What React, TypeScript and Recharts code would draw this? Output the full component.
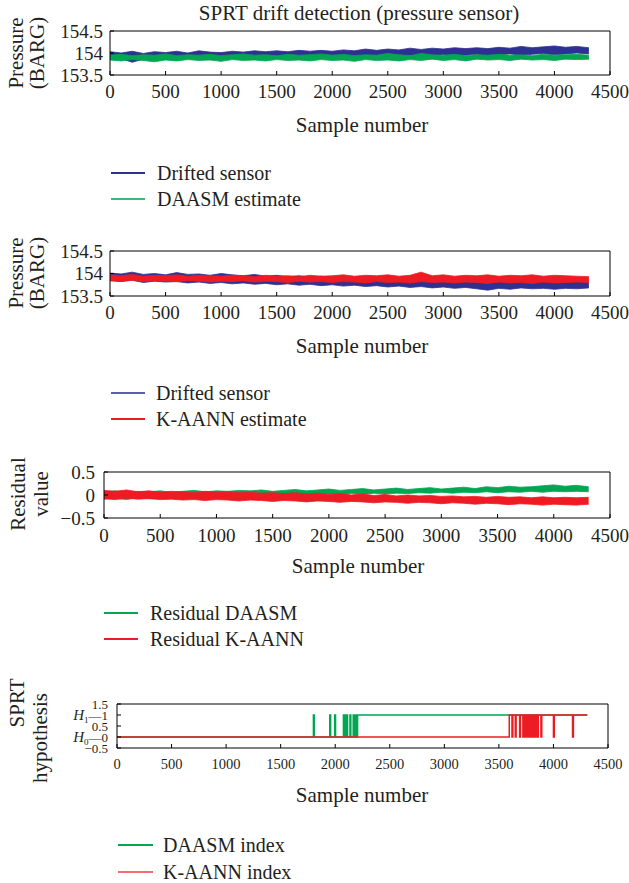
import React from 'react';
import { ComposedChart, Area, Line, XAxis, YAxis } from 'recharts';

const FONT = '"Liberation Serif", "DejaVu Serif", serif';
const BLUE = '#2e3192';
const GREEN = '#00a651';
const RED = '#ed1c24';
const INK = '#231f20';

const sampleNumbers = [
  0, 100, 200, 300, 400, 500, 600, 700, 800, 900,
  1000, 1100, 1200, 1300, 1400, 1500, 1600, 1700, 1800, 1900,
  2000, 2100, 2200, 2300, 2400, 2500, 2600, 2700, 2800, 2900,
  3000, 3100, 3200, 3300, 3400, 3500, 3600, 3700, 3800, 3900,
  4000, 4100, 4200, 4310,
];
const xTicks = [0, 500, 1000, 1500, 2000, 2500, 3000, 3500, 4000, 4500];

// panel 1: drifted sensor vs DAASM estimate (BARG), upper / lower edge of the noise band
const drifted1Hi = [
  154.03, 154.0, 154.04, 153.99, 154.03, 154.01, 154.04, 154.0, 154.05, 154.02,
  154.01, 154.04, 154.02, 154.05, 154.03, 154.05, 154.03, 154.06, 154.04, 154.06,
  154.04, 154.07, 154.05, 154.09, 154.06, 154.09, 154.07, 154.11, 154.08, 154.11,
  154.09, 154.12, 154.1, 154.12, 154.1, 154.13, 154.11, 154.15, 154.12, 154.14,
  154.16, 154.13, 154.15, 154.12,
];
const drifted1Lo = [
  153.85, 153.87, 153.79, 153.86, 153.88, 153.85, 153.87, 153.88, 153.86, 153.89,
  153.87, 153.88, 153.9, 153.87, 153.89, 153.91, 153.88, 153.9, 153.92, 153.89,
  153.91, 153.93, 153.9, 153.92, 153.94, 153.91, 153.93, 153.95, 153.92, 153.94,
  153.96, 153.93, 153.95, 153.97, 153.94, 153.96, 153.98, 153.95, 153.97, 153.99,
  153.96, 153.98, 154.0, 153.98,
];
const daasm1Hi = [
  153.95, 153.97, 153.94, 153.96, 153.95, 153.98, 153.94, 153.96, 153.95, 153.97,
  153.94, 153.96, 153.98, 153.95, 153.96, 153.94, 153.97, 153.95, 153.96, 153.98,
  153.95, 153.97, 153.94, 153.96, 153.95, 153.99, 153.96, 153.94, 153.99, 153.96,
  153.95, 153.97, 153.94, 153.96, 153.95, 153.97, 153.95, 153.96, 153.94, 153.97,
  153.95, 153.96, 153.97, 153.95,
];
const daasm1Lo = [
  153.84, 153.82, 153.85, 153.83, 153.8, 153.84, 153.82, 153.85, 153.83, 153.84,
  153.81, 153.85, 153.83, 153.84, 153.82, 153.85, 153.83, 153.84, 153.82, 153.85,
  153.83, 153.84, 153.81, 153.85, 153.83, 153.84, 153.82, 153.85, 153.83, 153.86,
  153.83, 153.85, 153.82, 153.86, 153.84, 153.85, 153.83, 153.86, 153.84, 153.85,
  153.83, 153.86, 153.85, 153.86,
];

// panel 2: drifted sensor vs K-AANN estimate (BARG)
const drifted2Hi = [
  154.01, 153.99, 154.03, 153.98, 154.0, 153.97, 154.02, 153.98, 153.99, 153.96,
  154.0, 153.97, 153.95, 153.98, 153.94, 153.96, 153.93, 153.95, 153.92, 153.94,
  153.91, 153.93, 153.9, 153.92, 153.89, 153.91, 153.88, 153.9, 153.87, 153.89,
  153.86, 153.88, 153.85, 153.87, 153.84, 153.86, 153.83, 153.85, 153.82, 153.84,
  153.81, 153.83, 153.82, 153.8,
];
const drifted2Lo = [
  153.84, 153.82, 153.85, 153.8, 153.83, 153.81, 153.82, 153.79, 153.81, 153.78,
  153.8, 153.77, 153.79, 153.76, 153.78, 153.75, 153.77, 153.74, 153.76, 153.73,
  153.75, 153.72, 153.74, 153.71, 153.73, 153.7, 153.72, 153.69, 153.71, 153.68,
  153.7, 153.67, 153.69, 153.66, 153.63, 153.67, 153.65, 153.68, 153.66, 153.67,
  153.65, 153.67, 153.66, 153.68,
];
const kaann2Hi = [
  153.97, 153.95, 153.98, 153.94, 153.96, 153.95, 153.97, 153.94, 153.96, 153.95,
  153.94, 153.96, 153.95, 153.93, 153.96, 153.94, 153.95, 153.93, 153.96, 153.94,
  153.95, 153.97, 153.94, 153.96, 153.95, 153.97, 153.94, 153.96, 154.03, 153.95,
  153.97, 153.94, 153.96, 153.95, 153.97, 153.94, 153.96, 153.95, 153.97, 153.94,
  153.96, 153.95, 153.94, 153.93,
];
const kaann2Lo = [
  153.84, 153.83, 153.85, 153.82, 153.84, 153.83, 153.82, 153.84, 153.83, 153.81,
  153.83, 153.82, 153.84, 153.81, 153.83, 153.82, 153.8, 153.83, 153.81, 153.82,
  153.8, 153.82, 153.81, 153.79, 153.82, 153.8, 153.81, 153.79, 153.82, 153.8,
  153.81, 153.79, 153.81, 153.8, 153.78, 153.81, 153.79, 153.8, 153.78, 153.81,
  153.79, 153.8, 153.81, 153.8,
];

// panel 3: residuals
const residDaasmHi = [
  0.07, 0.09, 0.06, 0.08, 0.07, 0.09, 0.06, 0.08, 0.1, 0.07,
  0.09, 0.08, 0.1, 0.09, 0.11, 0.08, 0.1, 0.12, 0.09, 0.11,
  0.13, 0.1, 0.12, 0.14, 0.11, 0.13, 0.15, 0.12, 0.14, 0.16,
  0.13, 0.15, 0.17, 0.14, 0.18, 0.16, 0.19, 0.17, 0.18, 0.2,
  0.22, 0.19, 0.21, 0.18,
];
const residDaasmLo = [
  -0.09, -0.07, -0.1, -0.06, -0.08, -0.07, -0.05, -0.07, -0.04, -0.06,
  -0.03, -0.05, -0.02, -0.04, -0.01, -0.03, 0.0, -0.02, 0.01, -0.01,
  0.02, 0.0, 0.03, 0.01, 0.04, 0.02, 0.04, 0.03, 0.05, 0.04,
  0.06, 0.04, 0.06, 0.05, 0.07, 0.05, 0.07, 0.06, 0.08, 0.06,
  0.08, 0.07, 0.08, 0.07,
];
const residKaannHi = [
  0.1, 0.08, 0.11, 0.07, 0.09, 0.06, 0.08, 0.07, 0.05, 0.08,
  0.06, 0.07, 0.05, 0.06, 0.04, 0.05, 0.03, 0.05, 0.02, 0.04,
  0.01, 0.03, 0.0, 0.02, -0.01, 0.01, -0.02, 0.0, -0.02, -0.01,
  -0.03, -0.02, -0.04, -0.03, -0.05, -0.03, -0.05, -0.04, -0.06, -0.04,
  -0.06, -0.05, -0.06, -0.05,
];
const residKaannLo = [
  -0.08, -0.1, -0.07, -0.09, -0.08, -0.1, -0.09, -0.11, -0.1, -0.12,
  -0.1, -0.11, -0.13, -0.11, -0.12, -0.14, -0.12, -0.13, -0.15, -0.13,
  -0.14, -0.16, -0.14, -0.15, -0.17, -0.15, -0.16, -0.18, -0.16, -0.17,
  -0.19, -0.17, -0.18, -0.2, -0.18, -0.19, -0.21, -0.19, -0.2, -0.22,
  -0.2, -0.21, -0.22, -0.2,
];

// panel 4: SPRT hypothesis (0 = H0, 1 = H1), switch points
const daasmIndexX = [0, 1800, 1808, 1950, 1958, 1995, 2003, 2075, 2083, 2090, 2098, 2105, 2113, 2135, 2143, 2165, 2173, 2185, 2193, 2205, 4310];
const daasmIndexY = [0, 1, 0, 1, 0, 1, 0, 1, 0, 1, 0, 1, 0, 1, 0, 1, 0, 1, 0, 1, 1];
const kaannIndexX = [
  0, 3595, 3620, 3628, 3650, 3658, 3690, 3698, 3720, 3726, 3735, 3741, 3750, 3756, 3765, 3771, 3780, 3786,
  3795, 3801, 3810, 3816, 3825, 3831, 3840, 3846, 3855, 3861, 3885, 3893, 4000, 4008, 4175, 4183, 4310,
];
const kaannIndexY = [
  0, 1, 0, 1, 0, 1, 0, 1, 0, 1, 0, 1, 0, 1, 0, 1, 0, 1,
  0, 1, 0, 1, 0, 1, 0, 1, 0, 1, 0, 1, 0, 1, 0, 1, 1,
];

const panel1 = sampleNumbers.map((sample, i) => ({
  sample, aLo: drifted1Lo[i], aHi: drifted1Hi[i], bLo: daasm1Lo[i], bHi: daasm1Hi[i],
}));
const panel2 = sampleNumbers.map((sample, i) => ({
  sample, aLo: drifted2Lo[i], aHi: drifted2Hi[i], bLo: kaann2Lo[i], bHi: kaann2Hi[i],
}));
const panel3 = sampleNumbers.map((sample, i) => ({
  sample, aLo: residDaasmLo[i], aHi: residDaasmHi[i], bLo: residKaannLo[i], bHi: residKaannHi[i],
}));
const daasmIndex = daasmIndexX.map((sample, i) => ({ sample, v: daasmIndexY[i] }));
const kaannIndex = kaannIndexX.map((sample, i) => ({ sample, v: kaannIndexY[i] }));

type Box = { top: number; bottom: number; left: number; right: number };

type PanelProps = {
  box: Box;
  yDomain: number[];
  yTicks: number[];
  fontSize: number;
  xGap: number;
  yGap: number;
  yTick?: any;
  data?: any[];
  children: React.ReactNode;
};

const minus = (v: number) => String(v).replace('-', '\u2212');

// one MATLAB-style boxed axes, ticks pointing inward
const Panel = ({ box, yDomain, yTicks, fontSize, xGap, yGap, yTick, data, children }: PanelProps) => {
  const padTop = 15;
  const padBottom = 40;
  const height = box.bottom - box.top + padTop + padBottom;
  const tickStyle = { fill: INK, fontSize, fontFamily: FONT };
  return (
    <div style={{ position: 'absolute', left: 0, top: box.top - padTop }}>
      <ComposedChart
        width={629}
        height={height}
        data={data}
        margin={{ top: padTop - 1, bottom: padBottom - 1, left: box.left - 1, right: 629 - box.right - 1 }}
      >
        <XAxis
          xAxisId="b" dataKey="sample" type="number" domain={[0, 4500]} ticks={xTicks} interval={0}
          height={1} tickSize={-4} tickMargin={xGap + 4} stroke="#000" tick={tickStyle}
        />
        <XAxis
          xAxisId="t" orientation="top" type="number" domain={[0, 4500]} ticks={xTicks} interval={0}
          height={1} tickSize={-4} tick={false} stroke="#000"
        />
        <YAxis
          yAxisId="l" type="number" domain={yDomain} ticks={yTicks} interval={0}
          width={1} tickSize={-4} tickMargin={yGap + 4} stroke="#000"
          tick={yTick ?? tickStyle} tickFormatter={minus}
        />
        <YAxis
          yAxisId="r" orientation="right" type="number" domain={yDomain} ticks={yTicks} interval={0}
          width={1} tickSize={-4} tick={false} stroke="#000"
        />
        {children}
      </ComposedChart>
    </div>
  );
};

const band = (lo: string, hi: string, color: string) => (
  <Area
    xAxisId="b" yAxisId="l" type="linear" dataKey={(d: any) => [d[lo], d[hi]]}
    stroke={color} strokeWidth={0.8} fill={color} fillOpacity={1}
    dot={false} activeDot={false} isAnimationActive={false}
  />
);

const HypothesisTick = (props: any) => {
  const { x, y, payload } = props;
  const v = payload.value;
  const common = { x, y, textAnchor: 'end' as const, fill: INK, fontSize: 13, fontFamily: FONT, dy: '0.35em' };
  if (v === 1 || v === 0) {
    return (
      <text {...common}>
        <tspan fontStyle="italic" fontSize={15}>H</tspan>
        <tspan fontSize={9} dy={3}>{v}</tspan>
        <tspan dy={-3}>{'\u2014' + v}</tspan>
      </text>
    );
  }
  return <text {...common}>{minus(v)}</text>;
};

const Txt = ({ x, y, children, size = 21, rotate = false }: { x: number; y: number; children: React.ReactNode; size?: number; rotate?: boolean }) => (
  <div
    style={{
      position: 'absolute', left: x, top: y, fontSize: size, fontFamily: FONT, color: INK, whiteSpace: 'nowrap',
      lineHeight: 1, transform: rotate ? 'translate(-50%,-50%) rotate(-90deg)' : 'translate(-50%,-50%)',
    }}
  >
    {children}
  </div>
);

const LegendRow = ({ x1, x2, tx, y, color, label }: { x1: number; x2: number; tx: number; y: number; color: string; label: string }) => (
  <>
    <div style={{ position: 'absolute', left: x1, top: y - 1, width: x2 - x1, height: 2, background: color }} />
    <div style={{ position: 'absolute', left: tx, top: y - 11, fontSize: 20, lineHeight: '22px', fontFamily: FONT, color: INK, whiteSpace: 'nowrap' }}>
      {label}
    </div>
  </>
);

export default function App() {
  return (
    <div style={{ position: 'absolute', left: 0, top: 0, width: 629, height: 883, background: '#fff', overflow: 'hidden' }}>
      <Txt x={359} y={13} size={21}>SPRT drift detection (pressure sensor)</Txt>

      {/* panel 1 */}
      <Panel box={{ top: 31, bottom: 75, left: 110, right: 610 }} yDomain={[153.5, 154.5]} yTicks={[153.5, 154, 154.5]}
        fontSize={19} xGap={10} yGap={7} data={panel1}>
        {band('aLo', 'aHi', BLUE)}
        {band('bLo', 'bHi', GREEN)}
      </Panel>
      <Txt x={16} y={53} rotate>Pressure</Txt>
      <Txt x={37} y={53} rotate>(BARG)</Txt>
      <Txt x={362} y={125}>Sample number</Txt>
      <LegendRow x1={111} x2={145} tx={157} y={173} color={BLUE} label="Drifted sensor" />
      <LegendRow x1={111} x2={145} tx={157} y={199} color={'#3cb878'} label="DAASM estimate" />

      {/* panel 2 */}
      <Panel box={{ top: 251, bottom: 296, left: 110, right: 610 }} yDomain={[153.5, 154.5]} yTicks={[153.5, 154, 154.5]}
        fontSize={19} xGap={10} yGap={7} data={panel2}>
        {band('aLo', 'aHi', BLUE)}
        {band('bLo', 'bHi', RED)}
      </Panel>
      <Txt x={16} y={273} rotate>Pressure</Txt>
      <Txt x={37} y={273} rotate>(BARG)</Txt>
      <Txt x={362} y={346}>Sample number</Txt>
      <LegendRow x1={111} x2={145} tx={156} y={393} color={'#5a5fb0'} label="Drifted sensor" />
      <LegendRow x1={111} x2={145} tx={156} y={419} color={RED} label="K-AANN estimate" />

      {/* panel 3 */}
      <Panel box={{ top: 472, bottom: 518, left: 104, right: 610 }} yDomain={[-0.5, 0.5]} yTicks={[-0.5, 0, 0.5]}
        fontSize={19} xGap={11} yGap={9} data={panel3}>
        {band('aLo', 'aHi', GREEN)}
        {band('bLo', 'bHi', RED)}
      </Panel>
      <Txt x={18} y={494} rotate>Residual</Txt>
      <Txt x={41} y={494} rotate>value</Txt>
      <Txt x={358} y={566}>Sample number</Txt>
      <LegendRow x1={104} x2={138} tx={150} y={613} color={GREEN} label="Residual DAASM" />
      <LegendRow x1={104} x2={138} tx={150} y={639} color={RED} label="Residual K-AANN" />

      {/* panel 4 */}
      <Panel box={{ top: 704, bottom: 748, left: 117, right: 608 }} yDomain={[-0.5, 1.5]} yTicks={[-0.5, 0, 0.5, 1, 1.5]}
        fontSize={14.5} xGap={11} yGap={9} yTick={<HypothesisTick />}>
        <Line xAxisId="b" yAxisId="l" data={daasmIndex} dataKey="v" type="stepAfter" stroke={GREEN} strokeWidth={1.5}
          dot={false} activeDot={false} isAnimationActive={false} />
        <Line xAxisId="b" yAxisId="l" data={kaannIndex} dataKey="v" type="stepAfter" stroke={RED} strokeWidth={1.5}
          dot={false} activeDot={false} isAnimationActive={false} />
      </Panel>
      <Txt x={17} y={703} rotate>SPRT</Txt>
      <Txt x={40} y={738} rotate>hypothesis</Txt>
      <Txt x={362} y={795}>Sample number</Txt>
      <LegendRow x1={118} x2={153} tx={163} y={845} color={GREEN} label="DAASM index" />
      <LegendRow x1={118} x2={153} tx={163} y={872} color={'#f26d6d'} label="K-AANN index" />
    </div>
  );
}
